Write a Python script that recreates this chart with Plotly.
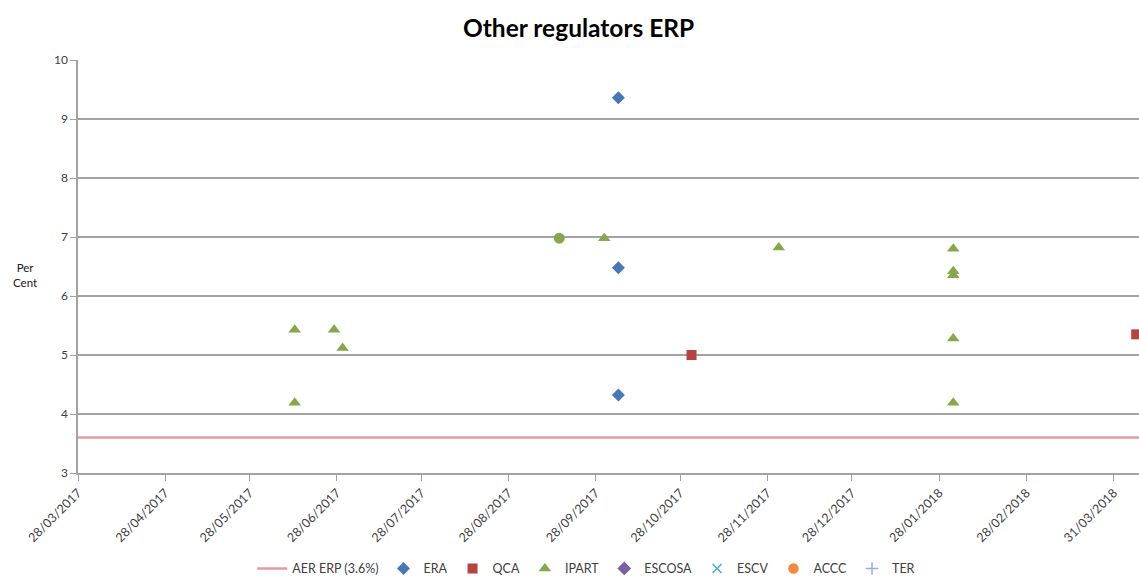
import datetime as dt
import plotly.graph_objects as go

# ---- data -------------------------------------------------------------
aer_erp = 3.6
aer_span = ["2017-03-28", "2018-04-09"]

era_dates = ["2017-10-06", "2017-10-06", "2017-10-06"]
era_values = [9.36, 6.48, 4.32]

qca_dates = ["2017-11-01", "2018-04-08"]
qca_values = [5.0, 5.35]

ipart_dates = ["2017-06-13", "2017-06-13", "2017-06-27", "2017-06-30",
               "2017-09-15", "2017-10-01", "2017-12-02",
               "2018-02-02", "2018-02-02", "2018-02-02", "2018-02-02", "2018-02-02"]
ipart_values = [5.43, 4.19, 5.43, 5.12,
                6.98, 6.98, 6.82,
                6.80, 6.42, 6.35, 5.28, 4.19]
ipart_symbols = ["triangle-up", "triangle-up", "triangle-up", "triangle-up",
                 "circle", "triangle-up", "triangle-up",
                 "triangle-up", "triangle-up", "triangle-up", "triangle-up", "triangle-up"]

tick_dates = ["2017-03-28", "2017-04-28", "2017-05-28", "2017-06-28", "2017-07-28",
              "2017-08-28", "2017-09-28", "2017-10-28", "2017-11-28", "2017-12-28",
              "2018-01-28", "2018-02-28", "2018-03-31"]
tick_labels = [dt.date.fromisoformat(d).strftime("%d/%m/%Y") for d in tick_dates]
y_ticks = [3, 4, 5, 6, 7, 8, 9, 10]

# ---- styling ----------------------------------------------------------
FONT = "Lato"
GRID = "#a3a3a3"
C_AER = "#e39c9c"
C_ERA = "#4677b8"
C_QCA = "#b8423e"
C_IPART = "#86a84a"
C_ESCOSA = "#7b5fa0"
C_ESCV = "#4bacc6"
C_ACCC = "#f08a3c"
C_TER = "#8fb0dc"

fig = go.Figure()

fig.add_trace(go.Scatter(
    x=aer_span, y=[aer_erp, aer_erp], mode="lines",
    name="AER ERP (3.6%)", line=dict(color=C_AER, width=2.5),
))
fig.add_trace(go.Scatter(
    x=era_dates, y=era_values, mode="markers", name="ERA",
    marker=dict(symbol="diamond", size=10, color=C_ERA),
))
fig.add_trace(go.Scatter(
    x=qca_dates, y=qca_values, mode="markers", name="QCA",
    marker=dict(symbol="square", size=10, color=C_QCA),
))
fig.add_trace(go.Scatter(
    x=ipart_dates, y=ipart_values, mode="markers", name="IPART",
    marker=dict(symbol=ipart_symbols, size=11, color=C_IPART),
))
# regulators with no decisions in the period – legend entries only
for name, sym, col in [("ESCOSA", "diamond", C_ESCOSA),
                       ("ESCV", "x-thin", C_ESCV),
                       ("ACCC", "circle", C_ACCC),
                       ("TER", "cross-thin", C_TER)]:
    fig.add_trace(go.Scatter(
        x=[None], y=[None], mode="markers", name=name,
        marker=dict(symbol=sym, size=9, color=col,
                    line=dict(color=col, width=1.5)),
    ))

fig.update_layout(
    width=1139, height=578,
    margin=dict(l=78, r=0, t=60, b=105, autoexpand=False),
    paper_bgcolor="white", plot_bgcolor="white",
    font=dict(family=FONT, size=12, color="#404040"),
    title=dict(text="<b>Other regulators ERP</b>", x=0.508, xanchor="center",
               y=0.95, yanchor="middle",
               font=dict(family=FONT, size=24.5, color="#000000")),
    showlegend=True,
    legend=dict(orientation="h", x=0.479, xanchor="center", y=-0.232,
                yanchor="middle", font=dict(size=12.5, color="#404040"),
                itemwidth=30, tracegroupgap=0),
    annotations=[dict(text="Per<br>Cent", xref="paper", yref="paper",
                      x=-0.05, y=0.48, xanchor="center", yanchor="middle",
                      showarrow=False, font=dict(size=11.5, color="#202020"))],
)

fig.update_xaxes(
    type="date", range=aer_span, automargin=False,
    tickmode="array", tickvals=tick_dates, ticktext=tick_labels,
    tickangle=-45, tickfont=dict(size=12.5, color="#404040"),
    showgrid=False, zeroline=False,
    showline=True, linecolor=GRID, linewidth=1.5,
    ticks="outside", ticklen=6, tickcolor=GRID,
)
fig.update_yaxes(
    range=[3, 10], automargin=False, tickmode="array", tickvals=y_ticks,
    tickfont=dict(size=12, color="#404040"),
    showgrid=True, gridcolor=GRID, gridwidth=1.5, zeroline=False,
    showline=True, linecolor=GRID, linewidth=1.5,
    ticks="outside", ticklen=6, tickcolor=GRID,
)

fig.write_html("out.html")
